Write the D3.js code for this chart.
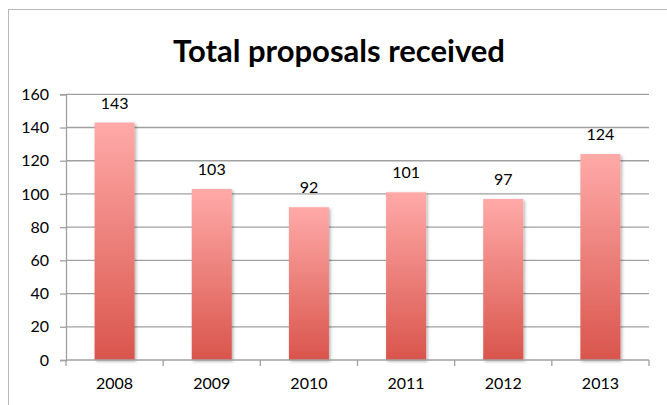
<!DOCTYPE html>
<html>
<head>
<meta charset="utf-8">
<script src="https://cdn.jsdelivr.net/npm/d3@7"></script>
<style>
  html, body { margin: 0; padding: 0; background: #fff; }
  svg { display: block; }
  text { font-family: Lato, "Open Sans", sans-serif; fill: #000; }
</style>
</head>
<body>
<svg id="chart" width="667" height="405"></svg>
<script>
const years = ["2008", "2009", "2010", "2011", "2012", "2013"];
const proposals = [143, 103, 92, 101, 97, 124];
const yTicks = [0, 20, 40, 60, 80, 100, 120, 140, 160];
const titleText = "Total proposals received";

const svg = d3.select("#chart");
const W = 667, H = 405;
const plotLeft = 66, plotRight = 649, plotTop = 94.3, plotBottom = 360;

// chart frame
svg.append("rect")
  .attr("x", 8.5).attr("y", 9.5)
  .attr("width", W + 20).attr("height", H + 20)
  .attr("fill", "#fff").attr("stroke", "#b8b8b8").attr("stroke-width", 1);

const defs = svg.append("defs");
const grad = defs.append("linearGradient")
  .attr("id", "barGrad").attr("x1", 0).attr("y1", 0).attr("x2", 0).attr("y2", 1);
grad.append("stop").attr("offset", "0%").attr("stop-color", "#ffaaa8");
grad.append("stop").attr("offset", "100%").attr("stop-color", "#d9554c");

const shadow = defs.append("filter").attr("id", "shadow")
  .attr("x", "-20%").attr("y", "-5%").attr("width", "150%").attr("height", "115%");
shadow.append("feDropShadow")
  .attr("dx", 1.5).attr("dy", 1.5).attr("stdDeviation", 1.5)
  .attr("flood-color", "#000").attr("flood-opacity", 0.3);

const x = d3.scaleBand().domain(years).range([plotLeft, plotRight])
  .paddingInner(0.588).paddingOuter(0.294);
const y = d3.scaleLinear().domain([0, 160]).range([plotBottom, plotTop]);

// gridlines
svg.append("g").selectAll("line").data(yTicks.filter(d => d > 0)).join("line")
  .attr("x1", plotLeft).attr("x2", plotRight)
  .attr("y1", d => y(d)).attr("y2", d => y(d))
  .attr("stroke", "#a0a0a0").attr("stroke-width", 1.3);

// bars
svg.append("g").selectAll("rect").data(years).join("rect")
  .attr("x", d => x(d))
  .attr("y", (d, i) => y(proposals[i]))
  .attr("width", x.bandwidth())
  .attr("height", (d, i) => y(0) - y(proposals[i]))
  .attr("fill", "url(#barGrad)")
  .attr("filter", "url(#shadow)");

// y axis
const yAxis = d3.axisLeft(y).tickValues(yTicks).tickSize(6).tickPadding(11);
const gy = svg.append("g").attr("transform", `translate(${plotLeft},0)`).call(yAxis);
gy.select(".domain").attr("stroke", "#a0a0a0").attr("stroke-width", 1.3);
gy.selectAll(".tick line").attr("stroke", "#a0a0a0").attr("stroke-width", 1.3);
gy.selectAll(".tick text").attr("font-size", 16).attr("fill", "#000")
  .style("font-family", "Lato, sans-serif");

// x axis
const xAxis = d3.axisBottom(x).tickSize(0).tickPadding(18);
const gx = svg.append("g").attr("transform", `translate(0,${plotBottom})`).call(xAxis);
gx.select(".domain").remove();
gx.append("line").attr("x1", plotLeft).attr("x2", plotRight).attr("y1", 0).attr("y2", 0)
  .attr("stroke", "#a0a0a0").attr("stroke-width", 1.3);
gx.selectAll(".tick text").attr("font-size", 16).attr("fill", "#000")
  .style("font-family", "Lato, sans-serif");
// boundary ticks
const bounds = years.map(d => x(d) - x.step() * x.paddingInner() / 2).concat([plotRight]);
gx.append("g").selectAll("line").data(bounds).join("line")
  .attr("x1", d => d).attr("x2", d => d).attr("y1", 0).attr("y2", 6)
  .attr("stroke", "#a0a0a0").attr("stroke-width", 1.3);

// value labels
svg.append("g").selectAll("text").data(years).join("text")
  .attr("x", d => x(d) + x.bandwidth() / 2)
  .attr("y", (d, i) => y(proposals[i]) - 14)
  .attr("text-anchor", "middle")
  .attr("font-size", 16)
  .text((d, i) => proposals[i]);

// title
svg.append("text")
  .attr("x", 339).attr("y", 62)
  .attr("text-anchor", "middle")
  .attr("font-size", 31).attr("font-weight", "bold")
  .text(titleText);
</script>
</body>
</html>
